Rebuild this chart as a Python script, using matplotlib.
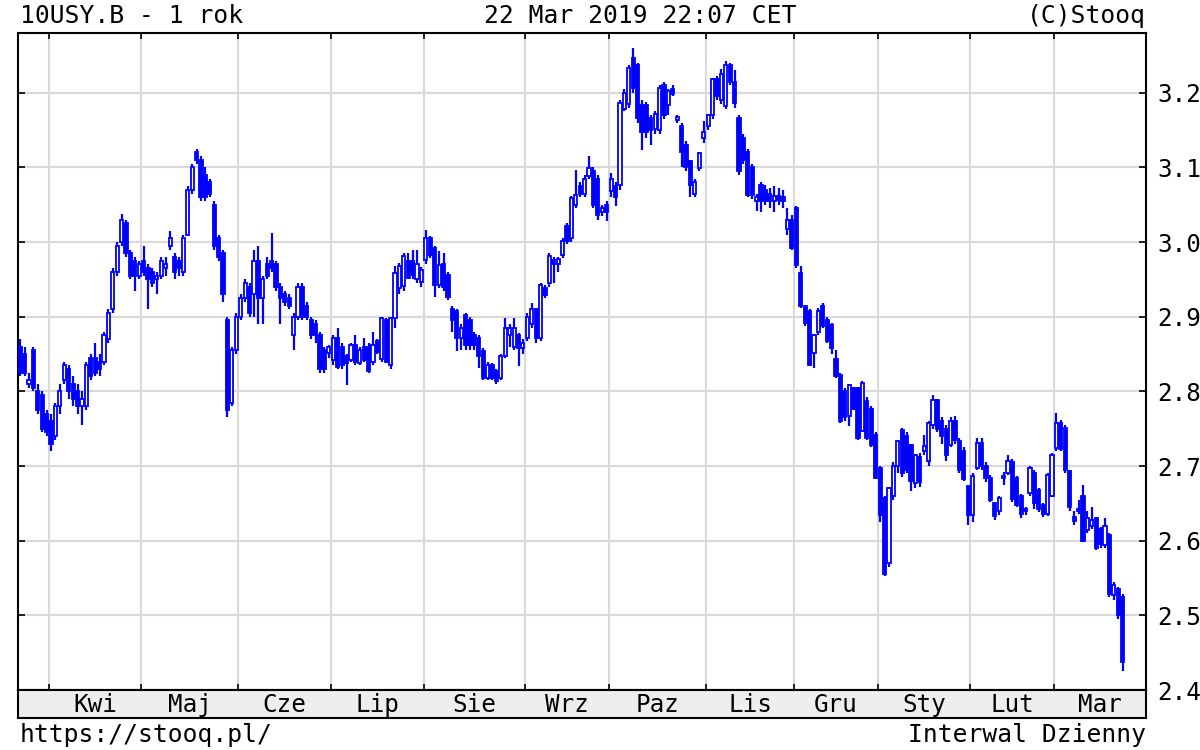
import matplotlib
matplotlib.use('Agg')
import matplotlib.pyplot as plt

plt.rcParams['font.family'] = ['DejaVu Sans Mono']

# Trading days per month, Mar 2018 (partial) .. Mar 2019
month_days = [7, 21, 22, 21, 21, 23, 19, 22, 20, 19, 21, 19, 16]
month_names = ['', 'Kwi', 'Maj', 'Cze', 'Lip', 'Sie', 'Wrz', 'Paz', 'Lis', 'Gru', 'Sty', 'Lut', 'Mar']
yticks = [2.4, 2.5, 2.6, 2.7, 2.8, 2.9, 3.0, 3.1, 3.2]

# daily candles (yield, %)
opens = [
    2.86, 2.85, 2.81, 2.855, 2.80, 2.795, 2.77,  # Mar
    2.76, 2.74, 2.78, 2.815, 2.83, 2.81, 2.80, 2.78, 2.78, 2.845, 2.845, 2.84, 2.84, 2.87, 2.91,
    2.96, 3.00, 3.025, 2.985, 2.975, 2.955,  # Apr
    2.975, 2.965, 2.96, 2.95, 2.955, 2.965, 2.995, 2.98, 2.975, 2.96, 3.01, 3.07, 3.12, 3.11,
    3.09, 3.08, 3.05, 3.005, 2.985, 2.895, 2.785, 2.855,  # May
    2.90, 2.925, 2.94, 2.93, 2.975, 2.925, 2.97, 2.975, 2.97, 2.94, 2.93, 2.925, 2.875, 2.90,
    2.94, 2.915, 2.895, 2.89, 2.875, 2.855, 2.852,  # Jun
    2.842, 2.871, 2.86, 2.847, 2.842, 2.862, 2.838, 2.86, 2.86, 2.84, 2.867, 2.844, 2.895, 2.835,
    2.898, 2.938, 2.941, 2.975, 2.974, 2.95, 2.947,  # Jul
    2.976, 3.005, 2.992, 2.942, 2.97, 2.956, 2.91, 2.907, 2.871, 2.902, 2.895, 2.875, 2.871, 2.854,
    2.818, 2.835, 2.827, 2.818, 2.848, 2.875, 2.86, 2.875, 2.858,  # Aug
    2.871, 2.89, 2.91, 2.871, 2.938, 2.945, 2.976, 2.97, 2.982, 3.022, 3.005, 3.05, 3.075, 3.065,
    3.089, 3.095, 3.085, 3.04, 3.05,  # Sep
    3.068, 3.075, 3.076, 3.178, 3.185, 3.246, 3.237, 3.183, 3.183, 3.166, 3.152, 3.15, 3.21, 3.183,
    3.205, 3.163, 3.155, 3.13, 3.108, 3.065, 3.099, 3.139,  # Oct
    3.155, 3.17, 3.219, 3.19, 3.182, 3.237, 3.215, 3.166, 3.14, 3.121, 3.10, 3.055, 3.076, 3.07,
    3.065, 3.055, 3.062, 3.06, 3.018, 3.03,  # Nov
    3.045, 2.958, 2.914, 2.907, 2.851, 2.88, 2.915, 2.895, 2.889, 2.844, 2.822, 2.80, 2.767, 2.804,
    2.804, 2.747, 2.787, 2.777, 2.741,  # Dec
    2.697, 2.657, 2.57, 2.66, 2.70, 2.748, 2.74, 2.728, 2.677, 2.712, 2.72, 2.707, 2.755, 2.788,
    2.76, 2.75, 2.728, 2.76, 2.733, 2.72, 2.673,  # Jan
    2.634, 2.697, 2.731, 2.70, 2.684, 2.65, 2.64, 2.684, 2.69, 2.705, 2.684, 2.66, 2.642, 2.664,
    2.69, 2.668, 2.648, 2.636, 2.66,  # Feb
    2.724, 2.757, 2.751, 2.693, 2.632, 2.642, 2.66, 2.614, 2.62, 2.63, 2.615, 2.594, 2.607, 2.527,
    2.535, 2.525,  # Mar
]
highs = [
    2.87, 2.86, 2.825, 2.86, 2.81, 2.80, 2.775,
    2.77, 2.785, 2.81, 2.84, 2.835, 2.82, 2.81, 2.80, 2.84, 2.85, 2.865, 2.85, 2.88, 2.91, 2.965,
    3.00, 3.037, 3.03, 2.99, 2.98, 2.975,
    2.995, 2.97, 2.965, 2.96, 2.98, 2.98, 3.015, 2.985, 2.98, 3.01, 3.075, 3.105, 3.125, 3.115,
    3.10, 3.085, 3.055, 3.01, 2.99, 2.90, 2.86, 2.905,
    2.93, 2.95, 2.945, 2.99, 2.995, 2.955, 2.98, 3.012, 2.975, 2.945, 2.935, 2.93, 2.905, 2.945,
    2.945, 2.92, 2.90, 2.895, 2.88, 2.86, 2.862,
    2.875, 2.885, 2.865, 2.85, 2.865, 2.875, 2.86, 2.872, 2.865, 2.88, 2.87, 2.90, 2.898, 2.90,
    2.968, 2.972, 2.985, 2.985, 2.99, 2.989, 2.966,
    3.016, 3.008, 2.995, 2.988, 2.985, 2.96, 2.915, 2.91, 2.89, 2.905, 2.90, 2.88, 2.875, 2.858,
    2.84, 2.838, 2.83, 2.85, 2.898, 2.89, 2.898, 2.878, 2.87,
    2.905, 2.918, 2.912, 2.945, 2.942, 2.985, 2.98, 2.98, 3.005, 3.025, 3.062, 3.096, 3.08, 3.09,
    3.115, 3.10, 3.09, 3.05, 3.055,
    3.092, 3.08, 3.19, 3.205, 3.237, 3.26, 3.24, 3.19, 3.188, 3.17, 3.175, 3.21, 3.215, 3.205,
    3.21, 3.17, 3.16, 3.135, 3.11, 3.085, 3.12, 3.162,
    3.172, 3.22, 3.222, 3.232, 3.242, 3.24, 3.23, 3.17, 3.145, 3.125, 3.105, 3.065, 3.08, 3.076,
    3.072, 3.075, 3.072, 3.07, 3.045, 3.036,
    3.048, 2.968, 2.915, 2.91, 2.877, 2.912, 2.918, 2.90, 2.892, 2.855, 2.825, 2.805, 2.81, 2.806,
    2.806, 2.814, 2.792, 2.78, 2.745,
    2.70, 2.66, 2.672, 2.705, 2.735, 2.751, 2.745, 2.73, 2.716, 2.718, 2.741, 2.76, 2.795, 2.79,
    2.765, 2.755, 2.765, 2.767, 2.738, 2.725, 2.675,
    2.69, 2.737, 2.737, 2.705, 2.688, 2.652, 2.66, 2.692, 2.715, 2.71, 2.686, 2.662, 2.645, 2.70,
    2.695, 2.67, 2.65, 2.69, 2.717,
    2.771, 2.762, 2.755, 2.695, 2.64, 2.655, 2.674, 2.64, 2.645, 2.632, 2.618, 2.63, 2.61, 2.545,
    2.538, 2.528,
]
lows = [
    2.82, 2.82, 2.805, 2.80, 2.77, 2.745, 2.74,
    2.72, 2.735, 2.77, 2.81, 2.79, 2.78, 2.77, 2.755, 2.775, 2.815, 2.82, 2.82, 2.835, 2.865, 2.905,
    2.955, 2.995, 2.98, 2.95, 2.935, 2.95,
    2.955, 2.91, 2.94, 2.93, 2.95, 2.955, 2.99, 2.95, 2.955, 2.955, 3.01, 3.065, 3.105, 3.055,
    3.055, 3.06, 2.99, 2.975, 2.92, 2.765, 2.78, 2.85,
    2.895, 2.92, 2.90, 2.90, 2.89, 2.89, 2.95, 2.96, 2.935, 2.89, 2.915, 2.91, 2.855, 2.895,
    2.895, 2.895, 2.87, 2.865, 2.825, 2.825, 2.845,
    2.835, 2.83, 2.83, 2.808, 2.84, 2.835, 2.835, 2.84, 2.825, 2.835, 2.85, 2.84, 2.838, 2.83,
    2.885, 2.93, 2.935, 2.95, 2.95, 2.945, 2.94,
    2.97, 2.978, 2.926, 2.938, 2.935, 2.922, 2.88, 2.854, 2.855, 2.855, 2.855, 2.855, 2.831, 2.815,
    2.815, 2.815, 2.81, 2.815, 2.845, 2.86, 2.855, 2.834, 2.85,
    2.868, 2.885, 2.865, 2.868, 2.925, 2.94, 2.945, 2.96, 2.978, 2.998, 3.00, 3.045, 3.06, 3.06,
    3.085, 3.045, 3.03, 3.035, 3.028,
    3.06, 3.048, 3.07, 3.175, 3.18, 3.20, 3.16, 3.123, 3.14, 3.13, 3.145, 3.145, 3.165, 3.17,
    3.195, 3.16, 3.101, 3.095, 3.061, 3.06, 3.095, 3.132,
    3.15, 3.165, 3.19, 3.185, 3.178, 3.21, 3.18, 3.09, 3.105, 3.06, 3.058, 3.041, 3.04, 3.05,
    3.045, 3.04, 3.05, 3.045, 3.01, 2.99,
    2.965, 2.912, 2.888, 2.834, 2.831, 2.875, 2.885, 2.865, 2.85, 2.818, 2.758, 2.76, 2.753, 2.775,
    2.735, 2.745, 2.735, 2.726, 2.682,
    2.625, 2.553, 2.565, 2.655, 2.69, 2.685, 2.69, 2.666, 2.67, 2.672, 2.715, 2.70, 2.75, 2.745,
    2.73, 2.707, 2.725, 2.73, 2.69, 2.68, 2.621,
    2.625, 2.695, 2.695, 2.678, 2.652, 2.628, 2.635, 2.675, 2.688, 2.652, 2.645, 2.63, 2.635, 2.66,
    2.642, 2.638, 2.632, 2.633, 2.658,
    2.72, 2.72, 2.69, 2.64, 2.621, 2.636, 2.598, 2.61, 2.615, 2.588, 2.59, 2.59, 2.525, 2.52,
    2.495, 2.425,
]
closes = [
    2.825, 2.825, 2.815, 2.805, 2.775, 2.75, 2.745,
    2.73, 2.78, 2.80, 2.835, 2.80, 2.79, 2.78, 2.79, 2.835, 2.82, 2.825, 2.83, 2.875, 2.905, 2.96,
    2.995, 3.03, 2.985, 2.955, 2.955, 2.97,
    2.96, 2.95, 2.945, 2.955, 2.975, 2.97, 3.005, 2.96, 2.965, 3.005, 3.07, 3.10, 3.11, 3.06,
    3.06, 3.065, 2.995, 2.98, 2.93, 2.775, 2.855, 2.90,
    2.925, 2.945, 2.905, 2.975, 2.925, 2.95, 2.955, 2.965, 2.94, 2.925, 2.92, 2.915, 2.90, 2.94,
    2.90, 2.90, 2.875, 2.875, 2.83, 2.83, 2.86,
    2.871, 2.833, 2.835, 2.838, 2.862, 2.84, 2.855, 2.842, 2.827, 2.862, 2.853, 2.898, 2.84, 2.898,
    2.958, 2.968, 2.981, 2.952, 2.956, 2.97, 2.962,
    3.005, 2.982, 2.942, 2.969, 2.94, 2.926, 2.895, 2.871, 2.885, 2.862, 2.862, 2.862, 2.848, 2.818,
    2.835, 2.818, 2.814, 2.848, 2.885, 2.885, 2.885, 2.858, 2.865,
    2.90, 2.91, 2.871, 2.942, 2.929, 2.981, 2.97, 2.977, 3.001, 3.001, 3.059, 3.063, 3.065, 3.085,
    3.099, 3.05, 3.036, 3.045, 3.04,
    3.085, 3.06, 3.186, 3.20, 3.233, 3.206, 3.166, 3.148, 3.148, 3.15, 3.172, 3.206, 3.17, 3.202,
    3.198, 3.168, 3.12, 3.10, 3.076, 3.08, 3.119, 3.148,
    3.17, 3.219, 3.195, 3.225, 3.237, 3.215, 3.186, 3.095, 3.11, 3.063, 3.063, 3.061, 3.055, 3.055,
    3.055, 3.062, 3.056, 3.055, 3.03, 2.992,
    2.969, 2.915, 2.891, 2.835, 2.875, 2.908, 2.887, 2.867, 2.858, 2.82, 2.76, 2.765, 2.808, 2.777,
    2.737, 2.811, 2.737, 2.728, 2.684,
    2.634, 2.556, 2.67, 2.70, 2.733, 2.69, 2.695, 2.68, 2.715, 2.678, 2.727, 2.757, 2.788, 2.75,
    2.74, 2.715, 2.76, 2.735, 2.695, 2.683, 2.634,
    2.686, 2.731, 2.70, 2.684, 2.655, 2.633, 2.657, 2.686, 2.707, 2.656, 2.648, 2.636, 2.64, 2.697,
    2.65, 2.642, 2.636, 2.688, 2.715,
    2.757, 2.723, 2.695, 2.645, 2.626, 2.64, 2.60, 2.63, 2.628, 2.59, 2.595, 2.62, 2.528, 2.54,
    2.50, 2.438,
]

blue = '#0000ff'
W, H = 1200, 750

fig = plt.figure(figsize=(12, 7.5), dpi=100)
ax = fig.add_axes([18 / W, 60 / H, 1128 / W, 657 / H])
band = fig.add_axes([18 / W, 32 / H, 1128 / W, 28 / H])

# month boundaries in candle index units
starts = [0]
for d in month_days[:-1]:
    starts.append(starts[-1] + d)
bounds = [s - 0.5 for s in starts[1:]]
xmax = 255.3

# candles: hollow = up day, filled = down day
for i in range(len(closes)):
    o, h, l, c = opens[i], highs[i], lows[i], closes[i]
    ax.vlines(i, l, h, color=blue, lw=1.6, zorder=3)
    up = c >= o
    ax.bar(i, max(abs(c - o), 0.002), bottom=min(o, c), width=0.72,
           color='white' if up else blue, edgecolor=blue, linewidth=1.3, zorder=4)

ax.set_xlim(-0.5, xmax)
ax.set_ylim(2.4, 3.28)
ax.set_xticks(bounds)
ax.set_yticks(yticks)
ax.set_yticklabels([f'{v:.1f}' for v in yticks])
ax.grid(True, color='#d9d9d9', lw=1.5, zorder=0)
ax.set_axisbelow(True)
ax.tick_params(axis='x', direction='in', top=True, bottom=True, length=4, width=1.2,
               labelbottom=False)
ax.tick_params(axis='y', direction='in', left=True, right=True, length=5, width=1.2,
               labelleft=False, labelright=True, labelsize=17.5, pad=8)
for s in ax.spines.values():
    s.set_linewidth(1.5)

# month label band
band.set_facecolor('#eeeeee')
band.set_xlim(-0.5, xmax)
band.set_ylim(0, 1)
band.set_xticks([])
band.set_yticks([])
for s in band.spines.values():
    s.set_linewidth(1.5)
ends = bounds + [xmax]
for k in range(1, len(month_names)):
    mid = (bounds[k - 1] + ends[k]) / 2
    band.text(mid, 0.45, month_names[k], ha='center', va='center', fontsize=17.5)

fs = 17.7
fig.text(20 / W, 1 - 16 / H, '10USY.B - 1 rok', ha='left', va='center', fontsize=fs)
fig.text(640 / W, 1 - 16 / H, '22 Mar 2019 22:07 CET', ha='center', va='center', fontsize=fs)
fig.text(1146 / W, 1 - 16 / H, '(C)Stooq', ha='right', va='center', fontsize=fs)
fig.text(20 / W, 1 - 735 / H, 'https://stooq.pl/', ha='left', va='center', fontsize=fs)
fig.text(1146 / W, 1 - 735 / H, 'Interwal Dzienny', ha='right', va='center', fontsize=fs)

fig.savefig('out.png', dpi=100)
